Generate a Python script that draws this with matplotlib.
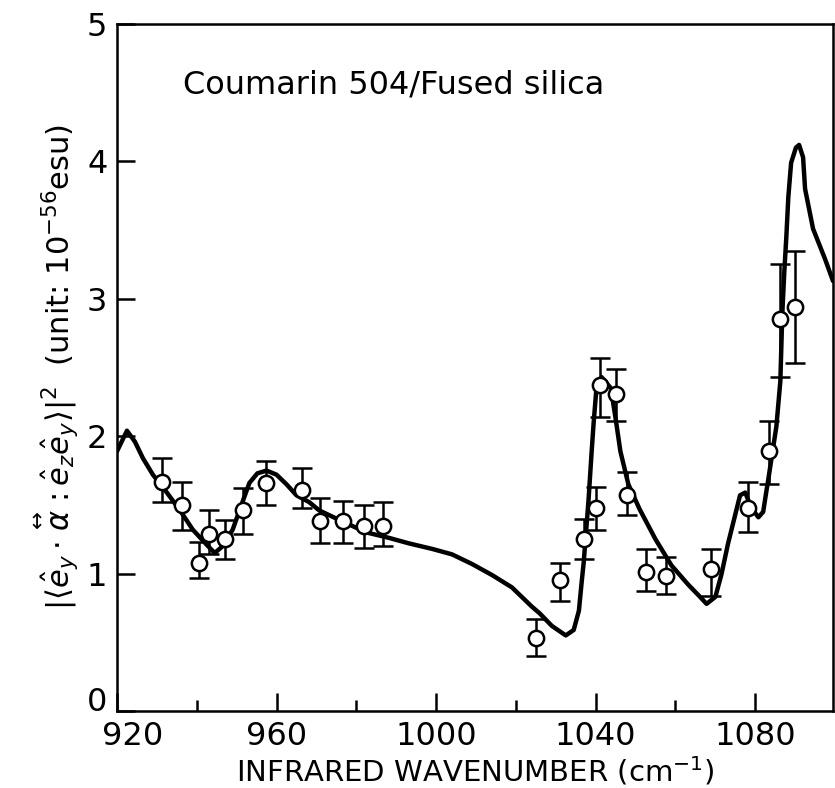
import numpy as np
import matplotlib
matplotlib.use("Agg")
import matplotlib.pyplot as plt
from matplotlib.transforms import ScaledTranslation

plt.rcParams['font.family'] = ['DejaVu Sans']
plt.rcParams['mathtext.fontset'] = 'dejavusans'

# measured points (wavenumber, value, upper and lower end of error bar)
wn_pts = [931.3, 936.2, 940.6, 943.1, 947.0, 951.5, 957.4, 966.3, 970.9, 976.7,
          981.9, 986.6, 1025.0, 1031.0, 1037.0, 1040.0, 1041.2, 1045.0, 1047.8,
          1052.5, 1057.7, 1069.0, 1078.3, 1083.5, 1086.2, 1090.0]
val_pts = [1.67, 1.50, 1.08, 1.29, 1.25, 1.46, 1.66, 1.61, 1.38, 1.38,
           1.35, 1.35, 0.53, 0.95, 1.25, 1.48, 2.37, 2.31, 1.57,
           1.01, 0.98, 1.03, 1.48, 1.89, 2.85, 2.94]
err_top = [1.84, 1.67, 1.23, 1.46, 1.39, 1.62, 1.82, 1.77, 1.55, 1.53,
           1.50, 1.52, 0.67, 1.08, 1.40, 1.63, 2.57, 2.49, 1.74,
           1.18, 1.12, 1.18, 1.67, 2.11, 3.25, 3.35]
err_bot = [1.52, 1.32, 0.97, 1.14, 1.11, 1.29, 1.50, 1.48, 1.22, 1.22,
           1.19, 1.20, 0.40, 0.80, 1.11, 1.32, 2.14, 2.11, 1.43,
           0.87, 0.85, 0.84, 1.30, 1.65, 2.43, 2.53]

# theoretical curve
wn_fit = [920, 922.5, 924.5, 926.5, 929, 932.5, 935.8, 939, 942.5, 944.5,
          946.5, 949, 951.2, 953.2, 955.2, 957.5, 960, 962.5, 965, 968.2,
          970.7, 976.5, 982.5, 988.2, 993.2, 999, 1004, 1009, 1014, 1019,
          1024, 1026, 1029, 1032.5, 1034.5, 1035.8, 1036.5, 1037, 1038.2, 1039,
          1039.5, 1040.2, 1041.5, 1043.8, 1045, 1046.2, 1048.2, 1051, 1055, 1059,
          1063.2, 1066.2, 1067.8, 1070, 1071.5, 1073.2, 1075, 1076.2, 1077.5, 1079,
          1080.8, 1082, 1082.8, 1083.2, 1085.3, 1086.3, 1086.8, 1087.3, 1087.8, 1088.3,
          1089, 1090.2, 1091, 1092, 1092.5, 1094.5, 1097.5, 1099.5]
val_fit = [1.89, 2.04, 1.96, 1.84, 1.72, 1.59, 1.46, 1.32, 1.21, 1.15,
           1.20, 1.32, 1.50, 1.66, 1.73, 1.75, 1.72, 1.65, 1.57, 1.52,
           1.46, 1.38, 1.30, 1.26, 1.22, 1.18, 1.14, 1.07, 0.99, 0.90,
           0.76, 0.71, 0.62, 0.55, 0.59, 0.73, 0.94, 1.08, 1.53, 1.89,
           2.10, 2.35, 2.43, 2.35, 2.13, 1.89, 1.65, 1.47, 1.25, 1.06,
           0.92, 0.83, 0.78, 0.83, 0.99, 1.22, 1.43, 1.57, 1.59, 1.48,
           1.41, 1.45, 1.60, 1.67, 2.07, 2.40, 2.90, 3.20, 3.45, 3.74,
           3.99, 4.10, 4.12, 4.03, 3.80, 3.51, 3.29, 3.13]

fig = plt.figure(figsize=(8.35, 7.88), dpi=100)
ax = fig.add_axes([0.1401, 0.0977, 0.8575, 0.8718])

ax.plot(wn_fit, val_fit, color='black', lw=3.2, solid_capstyle='round',
        solid_joinstyle='round', zorder=2)

yerr = [np.array(val_pts) - np.array(err_bot), np.array(err_top) - np.array(val_pts)]
ax.errorbar(wn_pts, val_pts, yerr=yerr, fmt='o', ms=11, mfc='white', mec='black',
            mew=1.8, ecolor='black', elinewidth=1.8, capsize=7, capthick=2.2, zorder=3)

ax.set_xlim(920, 1099.5)
ax.set_ylim(0, 5)
ax.set_xticks([920, 960, 1000, 1040, 1080])
ax.set_xticks([940, 980, 1020, 1060], minor=True)
ax.set_yticks([0, 1, 2, 3, 4, 5])
ax.tick_params(axis='both', which='major', direction='in', length=13, width=1.8,
               labelsize=23, pad=7)
ax.tick_params(axis='x', which='minor', direction='in', length=8, width=1.8)
for s in ax.spines.values():
    s.set_linewidth(1.8)

# keep the corner labels apart like in the original
fig.canvas.draw()
ylab0 = ax.get_yticklabels()[0]
ylab0.set_verticalalignment('baseline')
xlab0 = ax.get_xticklabels()[0]
xlab0.set_transform(xlab0.get_transform() + ScaledTranslation(0.16, 0, fig.dpi_scale_trans))

ax.set_xlabel(r'INFRARED WAVENUMBER (cm$^{-1}$)', fontsize=21, labelpad=2)
ax.set_ylabel(r'$|\langle\hat{e}_y\cdot\overset{\leftrightarrow}{\alpha}:\hat{e}_z\hat{e}_y\rangle|^2$'
              r'  (unit: $10^{-56}$esu)', fontsize=22, labelpad=4)

ax.text(0.092, 0.911, 'Coumarin 504/Fused silica', transform=ax.transAxes,
        fontsize=23, ha='left', va='center')

fig.savefig('out.png', dpi=100)
